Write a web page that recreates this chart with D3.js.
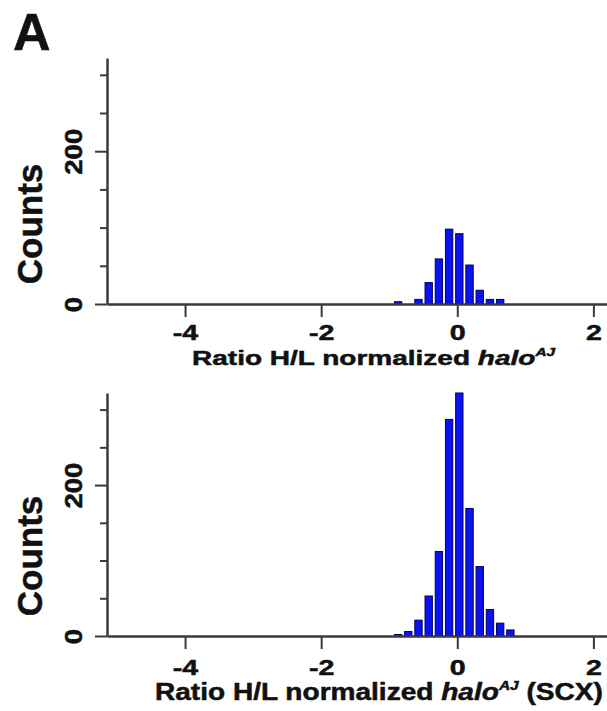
<!DOCTYPE html>
<html>
<head>
<meta charset="utf-8">
<script src="https://cdn.jsdelivr.net/npm/d3@7"></script>
<style>
  body { margin: 0; background: #fff; }
  svg { display: block; }
  text { font-family: "Liberation Sans", Arial, sans-serif; font-weight: bold; fill: #111; stroke: #111; stroke-width: 0.5px; }
</style>
</head>
<body>
<svg id="chart" width="607" height="711"></svg>
<script>
// histogram bins (ratio units) and counts
const binCenters = [-0.87, -0.72, -0.57, -0.42, -0.27, -0.12, 0.03, 0.18, 0.33, 0.48, 0.63, 0.78];
const binWidth = 0.15;
const countsAll = [3, 0, 6, 28, 59, 98, 92, 51, 18, 6, 6, 0];
const countsSCX = [2, 6, 21, 53, 112, 287, 322, 169, 92, 35, 17, 8];

const xTicks = [-4, -2, 0, 2];
const yMajor = [0, 200];
const yMinor = [50, 100, 150, 250, 300];
const xTitle = "Ratio H/L normalized ";
const geneName = "halo";
const geneSup = "AJ";

const svg = d3.select("#chart");
const axisColor = "#3a3a3a";

// panel letter
svg.append("text")
  .attr("x", 13).attr("y", 50)
  .attr("font-size", 52)
  .text("A");

// stretch a text element horizontally so its ink spans x0..x1
function stretch(sel, x0, x1) {
  const b = sel.node().getBBox();
  const s = (x1 - x0) / b.width;
  sel.attr("transform", `translate(${x0},0) scale(${s},1) translate(${-b.x},0)`);
}

const x = d3.scaleLinear().domain([-5.147, 2.2]).range([107, 607]);

const panels = [
  { counts: countsAll, top: 58, base: 304, labelY: 340, titleY: 365, tx0: 192, tx1: 556, suffix: "", titleSize: 21 },
  { counts: countsSCX, top: 393, base: 636, labelY: 675, titleY: 700, tx0: 155, tx1: 603, suffix: " (SCX)", titleSize: 23 },
];

panels.forEach(p => {
  const y = d3.scaleLinear().domain([0, 322]).range([p.base, p.top]);
  const g = svg.append("g");

  // bars
  const bw = binWidth * 0.72;
  g.append("g")
    .selectAll("rect")
    .data(binCenters.map((c, i) => ({ c, n: p.counts[i] })).filter(d => d.n > 0))
    .enter().append("rect")
    .attr("x", d => x(d.c - bw / 2))
    .attr("width", d => x(d.c + bw / 2) - x(d.c - bw / 2))
    .attr("y", d => y(d.n))
    .attr("height", d => y(0) - y(d.n))
    .attr("fill", "#0a12f2")
    .attr("stroke", "#00005a")
    .attr("stroke-width", 1);

  // x axis
  const xa = g.append("g")
    .attr("transform", `translate(0,${p.base})`)
    .call(d3.axisBottom(x).tickValues(xTicks).tickSize(13).tickSizeOuter(0).tickFormat(d3.format("d")));
  xa.select(".domain").attr("stroke", axisColor).attr("stroke-width", 2.5);
  xa.selectAll(".tick line").attr("stroke", axisColor).attr("stroke-width", 2);
  xa.selectAll(".tick text")
    .attr("y", p.labelY - p.base).attr("dy", null)
    .attr("font-size", 22)
    .attr("font-family", null)
    .attr("fill", "#111")
    .attr("transform", "scale(1.3,1)")
    .text(d => d < 0 ? "-" + Math.abs(d) : d);

  // y axis: minor then major ticks
  const ya = g.append("g").attr("transform", "translate(107,0)");
  ya.append("g")
    .call(d3.axisLeft(y).tickValues(yMinor).tickSize(7).tickSizeOuter(0).tickFormat(""))
    .call(s => s.select(".domain").remove())
    .selectAll(".tick line").attr("stroke", axisColor).attr("stroke-width", 2);
  const yMaj = ya.append("g")
    .call(d3.axisLeft(y).tickValues(yMajor).tickSize(12).tickSizeOuter(0).tickFormat(""));
  yMaj.select(".domain").attr("stroke", axisColor).attr("stroke-width", 2.5);
  yMaj.selectAll(".tick line").attr("stroke", axisColor).attr("stroke-width", 2);
  yMaj.selectAll(".tick text").remove();
  yMaj.selectAll(".tick").append("text")
    .attr("transform", "translate(-25,0) rotate(-90) scale(1.2,1)")
    .attr("text-anchor", "middle")
    .attr("font-size", 23)
    .attr("fill", "#111")
    .text(d => d);

  // y title
  g.append("text")
    .attr("transform", `translate(42,${p.base - 80}) rotate(-90)`)
    .attr("text-anchor", "middle")
    .attr("font-size", 35)
    .text("Counts");

  // x title
  const t = g.append("text")
    .attr("x", 0).attr("y", p.titleY)
    .attr("font-size", p.titleSize);
  t.append("tspan").text(xTitle);
  t.append("tspan").attr("font-style", "italic").text(geneName);
  t.append("tspan").attr("font-style", "italic").attr("font-size", p.titleSize * 0.55)
    .attr("dy", -p.titleSize * 0.42).text(geneSup);
  if (p.suffix) {
    t.append("tspan").attr("dy", p.titleSize * 0.42).text(p.suffix);
  }
  stretch(t, p.tx0, p.tx1);
});
</script>
</body>
</html>
